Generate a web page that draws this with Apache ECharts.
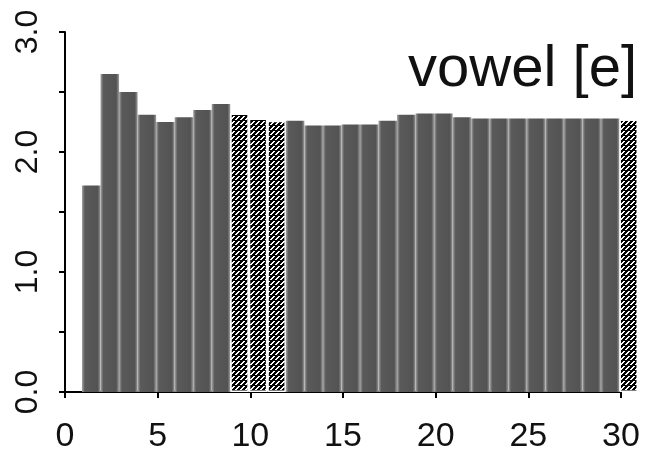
<!DOCTYPE html>
<html>
<head>
<meta charset="utf-8">
<script src="https://cdn.jsdelivr.net/npm/echarts@6/dist/echarts.min.js"></script>
<style>
html,body{margin:0;padding:0;background:#fff;}
#chart{width:648px;height:462px;}
</style>
</head>
<body>
<div id="chart"></div>
<script>
// ---- data ----
const frames = [1,2,3,4,5,6,7,8,9,10,11,12,13,14,15,16,17,18,19,20,21,22,23,24,25,26,27,28,29,30];
const values = [1.72,2.65,2.50,2.31,2.25,2.29,2.35,2.40,2.32,2.28,2.26,2.26,2.22,2.22,2.23,2.23,2.26,2.31,2.32,2.32,2.29,2.28,2.28,2.28,2.28,2.28,2.28,2.28,2.28,2.27];
const hatchedFrames = [9,10,11,30];
const xTicks = [0,5,10,15,20,25,30];
const yTicks = [0,1,2,3];
const titleText = 'vowel [e]';

// ---- hatch pattern ----
const tile = document.createElement('canvas');
tile.width = 5; tile.height = 5;
const c = tile.getContext('2d');
c.fillStyle = '#000'; c.fillRect(0,0,5,5);
c.fillStyle = '#fff';
[[0,4],[1,3],[2,2],[3,1],[1,4],[2,3],[3,2],[4,1]].forEach(p => c.fillRect(p[0],p[1],1,1));

const darkFill = {
  type:'linear', x:0, y:0, x2:1, y2:0,
  colorStops:[
    {offset:0, color:'#a4a4a4'},
    {offset:0.15, color:'#5a5a5a'},
    {offset:0.85, color:'#535353'},
    {offset:1, color:'#9c9c9c'}
  ]
};

const barData = frames.map((f,i) => hatchedFrames.includes(f)
  ? {value: values[i], itemStyle:{color:{image:tile, repeat:'repeat'}, borderColor:'#fff', borderWidth:1.5}}
  : {value: values[i]});

const chart = echarts.init(document.getElementById('chart'), null, {renderer:'canvas'});
const font = 'Liberation Sans, Arial, Helvetica, sans-serif';
chart.setOption({
  animation:false,
  backgroundColor:'#fff',
  title:{
    text:titleText, right:6, top:36,
    textStyle:{fontFamily:font, fontSize:58, fontWeight:'normal', color:'#111'}
  },
  grid:[
    {left:65, right:27, top:32, bottom:70},
    {left:82, right:10, top:32, bottom:70}
  ],
  xAxis:[
    {type:'value', gridIndex:0, min:0, max:30, interval:5, offset:16,
     axisLine:{show:true, lineStyle:{color:'#000', width:2}},
     axisTick:{show:true, length:6, lineStyle:{color:'#000', width:2}},
     axisLabel:{margin:12, fontSize:34, fontFamily:font, color:'#111',
       formatter:v => xTicks.includes(v) ? String(v) : ''},
     splitLine:{show:false}},
    {type:'category', gridIndex:1, data:frames, show:false, boundaryGap:true}
  ],
  yAxis:[
    {type:'value', gridIndex:0, min:0, max:3, interval:0.5, offset:5,
     axisLine:{show:true, lineStyle:{color:'#000', width:2}},
     axisTick:{show:true, length:6, lineStyle:{color:'#000', width:2}},
     axisLabel:{rotate:90, margin:16, fontSize:32, fontFamily:font, color:'#111',
       formatter:v => yTicks.includes(v) ? v.toFixed(1) : ''},
     splitLine:{show:false}},
    {type:'value', gridIndex:1, min:0, max:3, show:false}
  ],
  series:[{
    type:'bar', xAxisIndex:1, yAxisIndex:1,
    data:barData, barCategoryGap:'0%',
    itemStyle:{color:darkFill}
  }]
});
</script>
</body>
</html>
